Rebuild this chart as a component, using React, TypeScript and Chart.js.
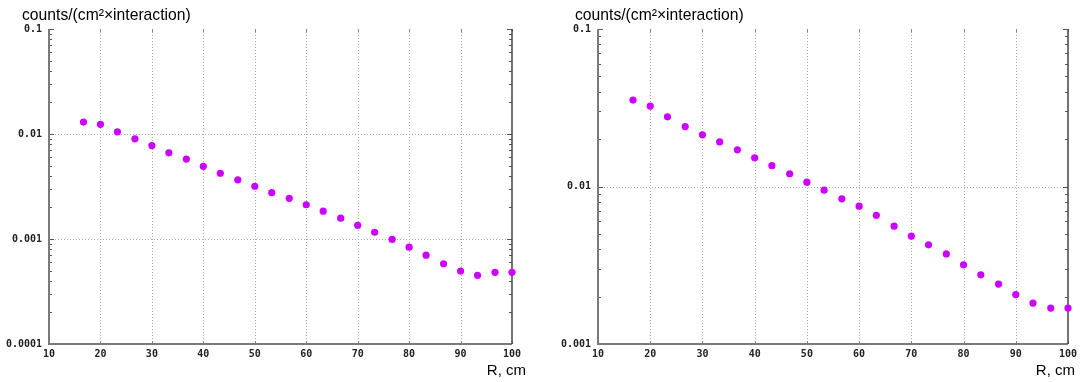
import React, { useEffect, useRef } from 'react';
import { Chart, registerables } from 'chart.js';

Chart.register(...registerables);

const rValues = [16.7, 20, 23.3, 26.7, 30, 33.3, 36.7, 40, 43.3, 46.7, 50, 53.3, 56.7, 60, 63.3, 66.7, 70, 73.3, 76.7, 80, 83.3, 86.7, 90, 93.3, 96.7, 100];

const leftCounts = [0.0130, 0.01235, 0.0105, 0.0090, 0.00776, 0.00662, 0.00577, 0.00492, 0.00423, 0.00366, 0.00318, 0.00276, 0.00244, 0.00212, 0.00184, 0.00158, 0.00135, 0.00116, 0.00099, 0.000835, 0.000702, 0.000581, 0.000495, 0.000451, 0.000481, 0.000481];

const rightCounts = [0.0354, 0.0324, 0.0277, 0.0240, 0.0213, 0.0192, 0.0171, 0.0152, 0.01355, 0.01205, 0.01066, 0.00948, 0.00835, 0.0075, 0.00657, 0.0056, 0.00484, 0.00426, 0.00373, 0.00318, 0.00275, 0.0024, 0.00206, 0.00182, 0.00169, 0.00169];

const xTickValues = [10, 20, 30, 40, 50, 60, 70, 80, 90, 100];
const xTickLabels = ['10', '20', '30', '40', '50', '60', '70', '80', '90', '100'];

const leftYTicks = [0.0001, 0.001, 0.01, 0.1];
const leftYTickLabels = ['0.0001', '0.001', '0.01', '0.1'];
const rightYTicks = [0.001, 0.01, 0.1];
const rightYTickLabels = ['0.001', '0.01', '0.1'];

const yAxisTitle = 'counts/(cm\u00B2\u00D7interaction)';
const xAxisTitle = 'R, cm';

const H = 382;
const tickFont = { family: '"DejaVu Sans Mono", monospace', size: 10, weight: 'bold' as const };

type PanelProps = {
  width: number;
  values: number[];
  yTicks: number[];
  yLabels: string[];
  area: { left: number; right: number; top: number; bottom: number };
  titleX: number;
  xTitleRight: number;
};

function Panel({ width, values, yTicks, yLabels, area, titleX, xTitleRight }: PanelProps) {
  const ref = useRef<HTMLCanvasElement | null>(null);

  useEffect(() => {
    const canvas = ref.current;
    if (!canvas) return;
    const yMin = yTicks[0];
    const yMax = yTicks[yTicks.length - 1];

    const framePlugin = {
      id: 'frame',
      beforeDatasetsDraw(chart: any) {
        const ctx = chart.ctx;
        const { left, right, top, bottom } = chart.chartArea;
        const xs = chart.scales.x;
        const ys = chart.scales.y;
        ctx.save();
        // dotted grid
        ctx.strokeStyle = '#aaaaaa';
        ctx.lineWidth = 1;
        ctx.setLineDash([1, 2]);
        xTickValues.forEach((v) => {
          if (v <= 10 || v >= 100) return;
          const px = Math.round(xs.getPixelForValue(v)) + 0.5;
          ctx.beginPath();
          ctx.moveTo(px, top);
          ctx.lineTo(px, bottom);
          ctx.stroke();
        });
        yTicks.forEach((v) => {
          if (v <= yMin || v >= yMax) return;
          const py = Math.round(ys.getPixelForValue(v)) + 0.5;
          ctx.beginPath();
          ctx.moveTo(left, py);
          ctx.lineTo(right, py);
          ctx.stroke();
        });
        ctx.setLineDash([]);
        // tick marks
        ctx.strokeStyle = '#555';
        ctx.lineWidth = 1;
        for (let d = yMin; d < yMax * 0.999; d *= 10) {
          for (let k = 1; k <= 10; k++) {
            const v = d * k;
            if (v > yMax * 1.0001) continue;
            const py = Math.round(ys.getPixelForValue(v)) + 0.5;
            const len = k === 1 || k === 10 ? 5 : 3;
            ctx.beginPath();
            ctx.moveTo(left, py);
            ctx.lineTo(left + len, py);
            ctx.moveTo(right, py);
            ctx.lineTo(right - len, py);
            ctx.stroke();
          }
        }
        ctx.strokeStyle = '#888';
        xTickValues.forEach((v) => {
          const px = Math.round(xs.getPixelForValue(v)) + 0.5;
          ctx.beginPath();
          ctx.moveTo(px, bottom);
          ctx.lineTo(px, bottom - 3);
          ctx.moveTo(px, top);
          ctx.lineTo(px, top + 3);
          ctx.stroke();
        });
        // frame
        ctx.strokeStyle = '#7a7a7a';
        ctx.lineWidth = 2;
        ctx.beginPath();
        ctx.moveTo(left, top);
        ctx.lineTo(left, bottom);
        ctx.lineTo(right, bottom);
        ctx.stroke();
        ctx.strokeStyle = '#444';
        ctx.lineWidth = 1.5;
        ctx.beginPath();
        ctx.moveTo(right, bottom);
        ctx.lineTo(right, top);
        ctx.stroke();
        ctx.restore();
      },
      afterDraw(chart: any) {
        const ctx = chart.ctx;
        ctx.save();
        ctx.fillStyle = '#000';
        ctx.font = '15.7px "Liberation Sans", Arial, sans-serif';
        ctx.textBaseline = 'alphabetic';
        ctx.textAlign = 'left';
        ctx.fillText(yAxisTitle, titleX, 20);
        ctx.font = '15px "Liberation Sans", Arial, sans-serif';
        ctx.textAlign = 'right';
        ctx.fillText(xAxisTitle, xTitleRight, 375);
        ctx.restore();
      },
    };

    const chart = new Chart(canvas, {
      type: 'scatter',
      data: {
        datasets: [
          {
            data: rValues.map((x, i) => ({ x, y: values[i] })),
            backgroundColor: '#cc00ff',
            borderWidth: 0,
            pointRadius: 3.6,
            pointHoverRadius: 3.6,
            clip: false as any,
          },
        ],
      },
      options: {
        animation: false,
        responsive: false,
        maintainAspectRatio: false,
        events: [],
        layout: { padding: { left: 0, top: area.top, right: width - area.right, bottom: 0 } },
        plugins: { legend: { display: false }, tooltip: { enabled: false }, title: { display: false } },
        scales: {
          x: {
            type: 'linear',
            min: 10,
            max: 100,
            afterBuildTicks: (s: any) => {
              s.ticks = xTickValues.map((v) => ({ value: v }));
            },
            afterFit: (s: any) => {
              s.height = H - area.bottom;
            },
            grid: { display: false, drawTicks: false },
            border: { display: false },
            ticks: {
              padding: 4,
              autoSkip: false,
              maxRotation: 0,
              color: '#222',
              font: tickFont,
              callback: (_v: any, i: number) => xTickLabels[i],
            },
          },
          y: {
            type: 'logarithmic',
            min: yMin,
            max: yMax,
            afterBuildTicks: (s: any) => {
              s.ticks = yTicks.map((v) => ({ value: v }));
            },
            afterFit: (s: any) => {
              s.width = area.left;
            },
            grid: { display: false, drawTicks: false },
            border: { display: false },
            ticks: {
              padding: 7,
              autoSkip: false,
              color: '#222',
              font: tickFont,
              callback: (_v: any, i: number) => yLabels[i],
            },
          },
        },
      },
      plugins: [framePlugin],
    });
    return () => chart.destroy();
  }, []);

  return <canvas ref={ref} width={width} height={H} style={{ display: 'block', width, height: H }} />;
}

export default function App() {
  return (
    <div style={{ position: 'fixed', left: 0, top: 0, width: 1085, height: H, background: '#fff', display: 'flex' }}>
      <Panel
        width={540}
        values={leftCounts}
        yTicks={leftYTicks}
        yLabels={leftYTickLabels}
        area={{ left: 49, right: 512, top: 29, bottom: 344 }}
        titleX={22}
        xTitleRight={526}
      />
      <Panel
        width={545}
        values={rightCounts}
        yTicks={rightYTicks}
        yLabels={rightYTickLabels}
        area={{ left: 58, right: 528, top: 29, bottom: 344 }}
        titleX={35}
        xTitleRight={535}
      />
    </div>
  );
}
